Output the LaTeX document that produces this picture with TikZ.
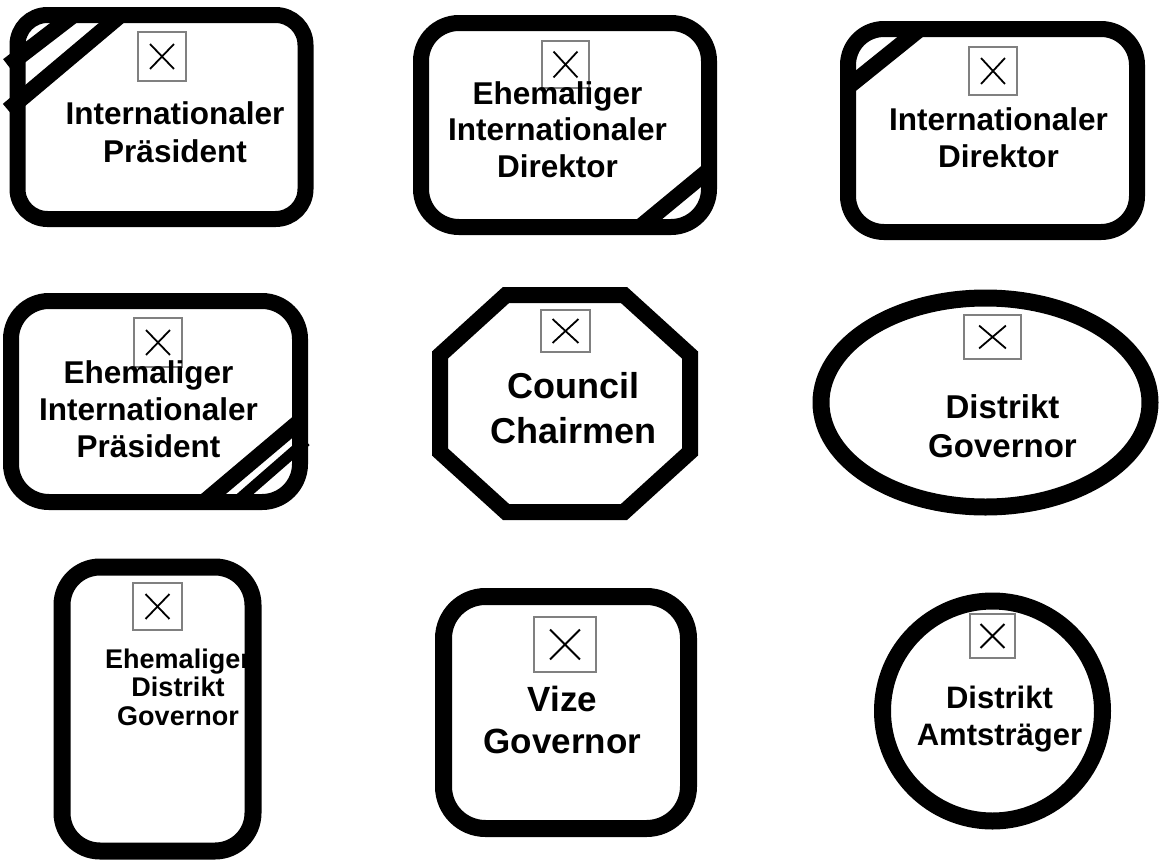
\documentclass[tikz,border=0pt]{standalone}
\usepackage{fontspec}
\setmainfont{Liberation Sans}
\usetikzlibrary{shapes.geometric,shapes.misc}

\begin{document}
\begin{tikzpicture}[x=1pt, y=-1pt,
  rim/.style={draw, line width=16, inner sep=0},
  role/.style={rim, rounded corners=36},
  band/.style={line width=16},
  icon/.style={draw=gray, line width=1.2, inner sep=0},
  cross/.style={draw, cross out, line width=1.8, inner sep=0, minimum width=22, minimum height=23},
  lbl/.style={align=center, anchor=base, inner sep=0, font=\bfseries\fontsize{31.5}{37}\selectfont}]
  \useasboundingbox (0,0) rectangle (1159,862);

  % Internationaler Praesident
  \node[role, rounded corners=30, minimum width=288, minimum height=204] (ip) at (161.5,117) {};
  \draw[band] (8,65.5) -- (75,14);
  \draw[band] (8,110) -- (122,14);
  \node[icon, minimum width=48, minimum height=49] (ipimg) at (162,56.5) {};
  \node[cross] (ipx) at (ipimg) {};
  \node[lbl, font=\bfseries\fontsize{31.5}{38}\selectfont] (iptxt) at (175,162) {Internationaler\\Präsident};

  % Ehemaliger Internationaler Direktor
  \node[role, rounded corners=38, minimum width=288, minimum height=204] (eid) at (565,125) {};
  \draw[band] (640,227) -- (709,170);
  \node[icon, minimum width=47, minimum height=47] (eidimg) at (565.5,64.5) {};
  \node[cross, minimum height=24] (eidx) at (eidimg) {};
  \node[lbl, font=\bfseries\fontsize{31.5}{36.5}\selectfont] (eidtxt) at (557.5,177) {Ehemaliger\\Internationaler\\Direktor};

  % Internationaler Direktor
  \node[role, minimum width=289, minimum height=203] (id) at (992.5,130.5) {};
  \draw[band] (848,87) -- (920,29);
  \node[icon, minimum width=48, minimum height=48] (idimg) at (993,71) {};
  \node[cross, minimum height=24] (idx) at (idimg) {};
  \node[lbl] (idtxt) at (998.5,167) {Internationaler\\Direktor};

  % Ehemaliger Internationaler Praesident
  \node[role, rounded corners=38, minimum width=289, minimum height=201] (eip) at (155.5,401.5) {};
  \draw[band] (204,502) -- (300,421);
  \draw[band, line width=11] (236,502) -- (306,441);
  \node[icon, minimum width=48, minimum height=49] (eipimg) at (158,342.5) {};
  \node[cross] (eipx) at (eipimg) {};
  \node[lbl] (eiptxt) at (148.5,457) {Ehemaliger\\Internationaler\\Präsident};

  % Council Chairmen
  \draw[rim] (506,295) -- (624,295) -- (690,355) -- (690,452) -- (624,512)
    -- (506,512) -- (440,452) -- (440,355) -- cycle;
  \node[icon, minimum width=49, minimum height=42] (ccimg) at (565.5,331) {};
  \node[cross, minimum width=24, minimum height=22] (ccx) at (ccimg) {};
  \node[lbl, font=\bfseries\fontsize{36}{45}\selectfont] (cctxt) at (573.5,443) {Council\\Chairmen};

  % Distrikt Governor
  \node[rim, ellipse, line width=17, minimum width=329, minimum height=209] (dg) at (985.5,402.5) {};
  \node[icon, minimum width=57, minimum height=44] (dgimg) at (992.5,337) {};
  \node[cross, minimum width=25, minimum height=21] (dgx) at (dgimg) {};
  \node[lbl, font=\bfseries\fontsize{33}{39}\selectfont] (dgtxt) at (1002.5,457) {Distrikt\\Governor};

  % Ehemaliger Distrikt Governor
  \node[role, rounded corners=38, line width=17, minimum width=191, minimum height=284] (edg) at (157.5,709) {};
  \node[icon, minimum width=49, minimum height=47] (edgimg) at (157.5,606.5) {};
  \node[cross] (edgx) at (edgimg) {};
  \node[lbl, font=\bfseries\fontsize{27}{28.5}\selectfont] (edgtxt) at (178,725) {Ehemaliger\\Distrikt\\Governor};

  % Vize Governor
  \node[role, rounded corners=42, line width=17, minimum width=245, minimum height=232] (vg) at (566,712.5) {};
  \node[icon, minimum width=62, minimum height=55] (vgimg) at (565,644.5) {};
  \node[cross, minimum width=28, minimum height=28] (vgx) at (vgimg) {};
  \node[lbl, font=\bfseries\fontsize{35}{42}\selectfont] (vgtxt) at (562.5,753) {Vize\\Governor};

  % Distrikt Amtstraeger
  \node[rim, circle, line width=17, minimum size=220] (da) at (992.5,711) {};
  \node[icon, minimum width=45, minimum height=44] (daimg) at (992.5,636) {};
  \node[cross, minimum height=22] (dax) at (daimg) {};
  \node[lbl, font=\bfseries\fontsize{31}{37}\selectfont] (datxt) at (999.5,745) {Distrikt\\Amtsträger};
\end{tikzpicture}
\end{document}
